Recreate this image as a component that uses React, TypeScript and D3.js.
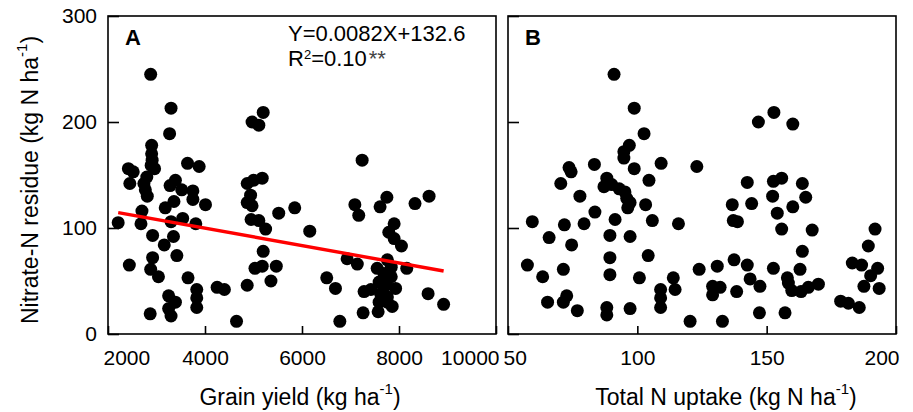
import React, { useRef, useEffect } from 'react';
import * as d3 from 'd3';

// panel A: grain yield vs nitrate-N residue
const grainYield = [
  2880, 3300, 3270, 4970, 5110, 5200, 7240, 2900, 2900, 2910, 2420, 2520, 2450, 2890, 2960, 2800,
  2740, 2770, 2810, 3640, 3880, 3390, 3280, 3520, 3750, 3750, 3360, 3180, 4010, 2700, 2210, 2680,
  3300, 3540, 3810, 2920, 3350, 3160, 3420, 2920, 2440, 2880, 3040, 3650, 3250, 3390, 3250, 3300,
  2870, 3830, 3830, 3830, 4250, 4400, 4650, 4870, 4870, 5000, 5180, 4940, 4870, 4970, 4950, 5110,
  5250, 5520, 5850, 6160, 5200, 5180, 5030, 5470, 5360, 6510, 6690, 6780, 6930, 7140, 7090, 7170,
  7610, 7750, 8330, 8620, 7900, 7790, 7900, 8050, 7760, 7840, 7550, 8160, 7690, 7840, 7590, 7730,
  7930, 7280, 7420, 7620, 7760, 7590, 7760, 7860, 7570, 7260, 8600, 8920,
];
const residueA = [
  245, 213, 189, 200, 197, 209, 164, 178, 170, 164, 156, 153, 142, 159, 156, 148,
  142, 136, 130, 161, 158, 145, 140, 136, 135, 127, 125, 119, 122, 116, 105, 104,
  106, 109, 104, 93, 92, 84, 74, 72, 65, 61, 54, 53, 36, 30, 24, 17,
  19, 42, 34, 25, 44, 42, 12, 46, 142, 145, 147, 131, 124, 121, 108, 107,
  99, 114, 119, 97, 78, 64, 62, 64, 50, 53, 43, 12, 71, 66, 122, 112,
  120, 129, 123, 130, 104, 96, 90, 83, 70, 63, 62, 62, 57, 54, 49, 46,
  43, 40, 42, 38, 35, 30, 30, 26, 21, 20, 38, 28,
];

// panel B: total N uptake vs nitrate-N residue
const nUptake = [
  91.0, 98.8, 102.6, 146.8, 152.8, 160.1, 123.0, 96.9, 94.8, 94.8, 98.8, 109.2, 104.5, 83.4, 73.6,
  74.4, 70.4, 77.8, 88.2, 87.1, 90.1, 93.0, 95.2, 95.9, 97.2, 96.3, 103.2, 83.6, 59.4, 71.8,
  79.4, 91.4, 105.8, 115.9, 65.9, 74.6, 89.4, 97.2, 104.2, 89.4, 57.5, 63.4, 71.4, 89.4, 100.8,
  113.9, 114.6, 109.0, 109.0, 109.0, 65.3, 71.4, 72.7, 76.8, 88.2, 88.2, 97.2, 120.4, 132.9, 123.9,
  130.9, 137.4, 142.5, 129.1, 132.0, 129.1, 138.4, 143.6, 147.4, 147.2, 157.1, 136.7, 144.2, 137.1, 138.7,
  142.5, 152.3, 152.6, 155.8, 154.1, 160.1, 163.8, 165.1, 155.8, 167.6, 163.8, 152.6, 162.9, 158.0, 158.4,
  159.7, 163.3, 166.1, 170.0, 183.1, 186.7, 189.3, 191.9, 192.9, 190.2, 187.6, 193.5, 178.6, 181.6, 185.8,
];
const residueB = [
  245, 213, 189, 200, 209, 198, 158, 178, 172, 166, 156, 161, 145, 160, 157,
  153, 142, 130, 147, 139, 141, 137, 134, 128, 124, 119, 122, 115, 106, 103,
  104, 108, 107, 104, 91, 84, 93, 92, 74, 72, 65, 54, 61, 56, 53,
  53, 42, 42, 34, 25, 30, 30, 36, 22, 25, 18, 24, 12, 12, 61,
  64, 70, 65, 45, 44, 37, 40, 52, 45, 20, 20, 122, 123, 107, 106,
  143, 130, 144, 147, 114, 120, 142, 129, 99, 98, 78, 62, 61, 53, 48,
  41, 40, 44, 47, 67, 65, 83, 99, 62, 55, 45, 43, 31, 29, 25,
];

const yTicks = [0, 100, 200, 300];
const xTicksA = [2000, 4000, 6000, 8000, 10000];
const xTicksB = [50, 100, 150, 200];

// fitted line as printed in the figure (negative slope)
const slope = -0.0082;
const intercept = 132.6;

const W = 913;
const H = 412;
const top = 16;
const bottom = 334;
const panelA = [108, 496];
const panelB = [508, 896];
const font = '"Liberation Sans", Arial, sans-serif';

function App() {
  const svgRef = useRef<SVGSVGElement>(null);

  useEffect(() => {
    const svg = d3.select(svgRef.current);
    svg.selectAll('*').remove();

    const y = d3.scaleLinear().domain([0, 300]).range([bottom, top]);
    const xA = d3.scaleLinear().domain([2000, 10000]).range(panelA);
    const xB = d3.scaleLinear().domain([50, 200]).range(panelB);

    const drawPanel = (x, xs, ys, ticks, showYLabels, letter) => {
      const g = svg.append('g');
      const [x0, x1] = x.range();

      g.append('rect')
        .attr('x', x0).attr('y', top)
        .attr('width', x1 - x0).attr('height', bottom - top)
        .attr('fill', 'none').attr('stroke', '#000').attr('stroke-width', 1.6);

      const yAxis = g.append('g')
        .attr('transform', `translate(${x0},0)`)
        .call(d3.axisLeft(y).tickValues(yTicks).tickSizeInner(-11).tickSizeOuter(0).tickPadding(11)
          .tickFormat(showYLabels ? d3.format('d') : () => ''));
      yAxis.select('.domain').remove();

      const xAxis = g.append('g')
        .attr('transform', `translate(0,${bottom})`)
        .call(d3.axisBottom(x).tickValues(ticks).tickSizeInner(-8).tickSizeOuter(0).tickPadding(16)
          .tickFormat(d3.format('d')));
      xAxis.select('.domain').remove();

      [yAxis, xAxis].forEach(ax => {
        ax.selectAll('line').attr('stroke', '#000').attr('stroke-width', 1.6);
        ax.selectAll('text').attr('font-family', font).attr('font-size', 21).attr('fill', '#000');
      });
      // end labels are pulled inside the frame
      const xt = xAxis.selectAll('text');
      xt.filter((d, i) => i === 0).attr('text-anchor', 'start').attr('dx', -5);
      xt.filter((d, i, n) => i === n.length - 1).attr('text-anchor', 'end').attr('dx', 3);

      g.append('g')
        .selectAll('circle')
        .data(xs.map((v, i) => [v, ys[i]]))
        .enter()
        .append('circle')
        .attr('cx', d => x(d[0]))
        .attr('cy', d => y(d[1]))
        .attr('r', 6.5)
        .attr('fill', '#000');

      g.append('text')
        .attr('x', x0 + 17).attr('y', 45)
        .attr('font-family', font).attr('font-size', 22).attr('font-weight', 'bold')
        .text(letter);

      return g;
    };

    const gA = drawPanel(xA, grainYield, residueA, xTicksA, true, 'A');
    drawPanel(xB, nUptake, residueB, xTicksB, false, 'B');

    // regression line
    const [xmin, xmax] = d3.extent(grainYield);
    const line = d3.line().x(d => xA(d[0])).y(d => y(d[1]));
    gA.append('path')
      .attr('d', line([[xmin, slope * xmin + intercept], [xmax, slope * xmax + intercept]]))
      .attr('stroke', '#ff0000').attr('stroke-width', 3.4).attr('fill', 'none');

    gA.append('text')
      .attr('x', 288).attr('y', 41)
      .attr('font-family', font).attr('font-size', 22).attr('fill', '#000')
      .text('Y=0.0082X+132.6');
    const r2 = gA.append('text')
      .attr('x', 288).attr('y', 66)
      .attr('font-family', font).attr('font-size', 22).attr('fill', '#000');
    r2.append('tspan').text('R');
    r2.append('tspan').attr('font-size', 13).attr('dy', -7).text('2');
    r2.append('tspan').attr('dy', 7).text('=0.10');
    r2.append('tspan').attr('fill', '#444').attr('dx', 2).text('**');

    // axis titles
    const title = (tx, ty, main, rotate = false) => {
      const t = svg.append('text')
        .attr('font-family', font).attr('font-size', 23).attr('fill', '#000')
        .attr('text-anchor', 'middle')
        .attr('transform', `translate(${tx},${ty})${rotate ? ' rotate(-90)' : ''}`);
      t.append('tspan').text(main);
      t.append('tspan').attr('font-size', 15).attr('dy', -11).text('-1');
      t.append('tspan').attr('dy', 11).text(')');
    };
    title(300, 405, 'Grain yield (kg ha');
    title(726, 405, 'Total N uptake (kg N ha');
    title(38, 180, 'Nitrate-N residue (kg N ha', true);
  }, []);

  return (
    <svg
      ref={svgRef}
      width={W}
      height={H}
      style={{ position: 'absolute', left: 0, top: 0, background: '#fff' }}
    />
  );
}

export default App;
